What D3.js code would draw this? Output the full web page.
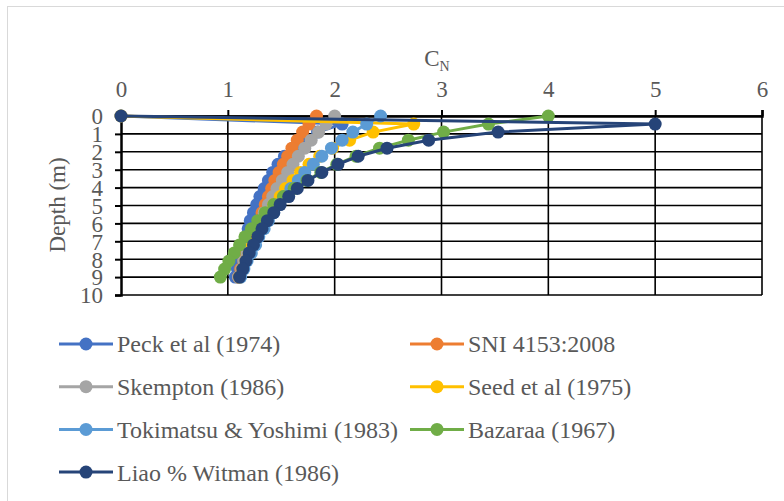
<!DOCTYPE html>
<html>
<head>
<meta charset="utf-8">
<script src="https://cdn.jsdelivr.net/npm/d3@7"></script>
<style>
  body { margin: 0; background: #fff; }
  svg text { font-family: "Liberation Serif", "Times New Roman", serif; fill: #595959; }
</style>
</head>
<body>
<svg id="chart" width="784" height="501"></svg>
<script>
// Depth of each reading (m)
var depths = [0, 0.45, 0.9, 1.35, 1.8, 2.25, 2.7, 3.15, 3.6, 4.05, 4.5, 4.95, 5.4, 5.85, 6.3, 6.75, 7.2, 7.65, 8.1, 8.55, 9.0];

// C_N values, one per depth
var peck      = [0, 2.07, 1.84, 1.70, 1.61, 1.53, 1.47, 1.42, 1.38, 1.34, 1.30, 1.27, 1.24, 1.21, 1.19, 1.17, 1.14, 1.12, 1.10, 1.09, 1.07];
var sni       = [1.83, 1.76, 1.70, 1.65, 1.60, 1.56, 1.52, 1.48, 1.44, 1.41, 1.38, 1.35, 1.32, 1.29, 1.26, 1.23, 1.20, 1.17, 1.15, 1.12, 1.10];
var skempton  = [2.00, 1.92, 1.85, 1.78, 1.72, 1.66, 1.61, 1.56, 1.51, 1.46, 1.42, 1.38, 1.34, 1.31, 1.27, 1.24, 1.21, 1.18, 1.15, 1.13, 1.10];
var seed      = [0, 2.74, 2.36, 2.14, 1.98, 1.86, 1.76, 1.68, 1.61, 1.54, 1.49, 1.43, 1.39, 1.34, 1.30, 1.27, 1.23, 1.20, 1.17, 1.14, 1.11];
var tokimatsu = [2.43, 2.30, 2.17, 2.07, 1.97, 1.88, 1.80, 1.72, 1.66, 1.59, 1.53, 1.48, 1.43, 1.38, 1.34, 1.29, 1.26, 1.22, 1.18, 1.15, 1.12];
var bazaraa   = [4.00, 3.44, 3.02, 2.69, 2.42, 2.20, 2.02, 1.87, 1.74, 1.62, 1.52, 1.43, 1.35, 1.28, 1.22, 1.16, 1.11, 1.06, 1.01, 0.97, 0.93];
var liao      = [0, 5.00, 3.53, 2.88, 2.49, 2.22, 2.03, 1.88, 1.75, 1.65, 1.57, 1.49, 1.43, 1.37, 1.32, 1.28, 1.24, 1.20, 1.17, 1.14, 1.11];

var seriesNames = ["Peck et al (1974)", "SNI 4153:2008", "Skempton (1986)", "Seed et al (1975)",
                   "Tokimatsu & Yoshimi (1983)", "Bazaraa (1967)", "Liao % Witman (1986)"];
var seriesValues = [peck, sni, skempton, seed, tokimatsu, bazaraa, liao];
var seriesColors = ["#4472C4", "#ED7D31", "#A5A5A5", "#FFC000", "#5B9BD5", "#70AD47", "#264478"];

var xTicks = [0, 1, 2, 3, 4, 5, 6];
var yTicks = [0, 1, 2, 3, 4, 5, 6, 7, 8, 9, 10];

var FONT = "'Liberation Serif', 'Times New Roman', serif";

var svg = d3.select("#chart");

// chart frame
svg.append("rect")
    .attr("x", 7.5).attr("y", 6.5)
    .attr("width", 800).attr("height", 520)
    .attr("fill", "#fff")
    .attr("stroke", "#d9d9d9");

var x = d3.scaleLinear().domain([0, 6]).range([121, 762]);
var y = d3.scaleLinear().domain([0, 10]).range([116, 295]);

// gridlines
var grid = svg.append("g");
grid.selectAll(".h").data(yTicks).enter().append("line")
    .attr("x1", x(0)).attr("x2", x(6))
    .attr("y1", function(d) { return y(d); }).attr("y2", function(d) { return y(d); })
    .attr("stroke", "#000").attr("stroke-width", 1.6);
grid.selectAll(".v").data(xTicks.slice(1)).enter().append("line")
    .attr("x1", function(d) { return x(d); }).attr("x2", function(d) { return x(d); })
    .attr("y1", y(0)).attr("y2", y(10))
    .attr("stroke", "#000").attr("stroke-width", 1.6);

// axes
var xAxis = svg.append("g")
    .attr("transform", "translate(0," + y(0) + ")")
    .call(d3.axisTop(x).tickValues(xTicks).tickFormat(d3.format("d")).tickSize(6).tickPadding(13));
var yAxis = svg.append("g")
    .attr("transform", "translate(" + x(0) + ",0)")
    .call(d3.axisLeft(y).tickValues(yTicks).tickFormat(d3.format("d")).tickSize(6).tickPadding(12));

[xAxis, yAxis].forEach(function(a) {
    a.attr("font-family", null).attr("font-size", null);
    a.select(".domain").attr("stroke", "#000").attr("stroke-width", 2.5);
    a.selectAll(".tick line").attr("stroke", "#000").attr("stroke-width", 2);
    a.selectAll(".tick text")
        .attr("font-family", FONT)
        .style("font-family", FONT)
        .style("font-size", "23px")
        .attr("fill", "#595959");
});
yAxis.selectAll(".tick text").attr("dy", "0.34em");

// axis titles
var xt = svg.append("text")
    .attr("x", 437).attr("y", 66)
    .attr("text-anchor", "middle")
    .style("font-size", "23px");
xt.append("tspan").text("C");
xt.append("tspan").attr("dy", 5).style("font-size", "14px").text("N");

svg.append("text")
    .attr("transform", "translate(65,205) rotate(-90)")
    .attr("text-anchor", "middle")
    .style("font-size", "23px")
    .text("Depth (m)");

// series
var line = d3.line()
    .x(function(d) { return x(d[0]); })
    .y(function(d) { return y(d[1]); });

seriesValues.forEach(function(vals, i) {
    var pts = vals.map(function(v, j) { return [v, depths[j]]; });
    var g = svg.append("g");
    g.append("path")
        .datum(pts)
        .attr("d", line)
        .attr("fill", "none")
        .attr("stroke", seriesColors[i])
        .attr("stroke-width", 3)
        .attr("stroke-linejoin", "miter");
    g.selectAll("circle").data(pts).enter().append("circle")
        .attr("cx", function(d) { return x(d[0]); })
        .attr("cy", function(d) { return y(d[1]); })
        .attr("r", 6.5)
        .attr("fill", seriesColors[i]);
});

// legend
var legend = svg.append("g");
seriesNames.forEach(function(name, i) {
    var col = i % 2, row = Math.floor(i / 2);
    var lx = col === 0 ? 59 : 410;
    var ly = 344 + row * 42.7;
    var item = legend.append("g").attr("transform", "translate(" + lx + "," + ly + ")");
    item.append("line")
        .attr("x1", 0).attr("x2", 54).attr("y1", 0).attr("y2", 0)
        .attr("stroke", seriesColors[i]).attr("stroke-width", 3);
    item.append("circle")
        .attr("cx", 27).attr("cy", 0).attr("r", 6.5)
        .attr("fill", seriesColors[i]);
    item.append("text")
        .attr("x", 58).attr("y", 0).attr("dy", "0.35em")
        .style("font-size", "24px")
        .text(name);
});
</script>
</body>
</html>
